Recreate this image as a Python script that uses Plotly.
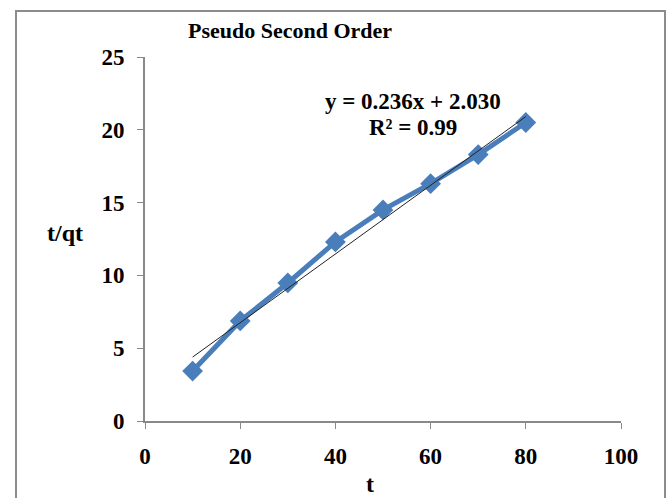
import plotly.graph_objects as go

# Data
t_values = [10, 20, 30, 40, 50, 60, 70, 80]
t_over_qt = [3.43, 6.87, 9.48, 12.3, 14.5, 16.3, 18.3, 20.5]
fit_slope = 0.236
fit_intercept = 2.030
r_squared = 0.99
x_ticks = [0, 20, 40, 60, 80, 100]
y_ticks = [0, 5, 10, 15, 20, 25]

FONT = "Liberation Serif, Times New Roman, serif"

fit_x = [t_values[0], t_values[-1]]
fit_y = [fit_slope * x + fit_intercept for x in fit_x]

fig = go.Figure()
fig.add_trace(go.Scatter(
    x=t_values, y=t_over_qt, mode="lines+markers",
    line=dict(color="#4A7EBB", width=5),
    marker=dict(symbol="diamond", size=16, color="#4A7EBB"),
    showlegend=False, cliponaxis=False,
))
fig.add_trace(go.Scatter(
    x=fit_x, y=fit_y, mode="lines",
    line=dict(color="#222222", width=1),
    showlegend=False,
))

axis_common = dict(
    showgrid=False, zeroline=False, showline=True, linecolor="#898989", linewidth=2,
    ticks="outside", tickcolor="#898989", ticklen=6, tickwidth=1,
    tickfont=dict(family=FONT, size=23, color="black", weight="bold"),
)
fig.update_xaxes(range=[0, 100], tickvals=x_ticks, ticklabelstandoff=7, **axis_common)
fig.update_yaxes(range=[0, 25], tickvals=y_ticks, ticklabelstandoff=8, **axis_common)

fig.update_layout(
    width=668, height=498,
    margin=dict(l=145, r=47, t=57, b=77),
    paper_bgcolor="white", plot_bgcolor="white",
    title=dict(text="Pseudo Second Order", x=290/668, xref="container", xanchor="center",
               y=1-30/498, yref="container", yanchor="middle",
               font=dict(family=FONT, size=22, color="black", weight="bold")),
    annotations=[
        dict(text=f"y = {fit_slope:.3f}x + {fit_intercept:.3f}",
             x=(413-145)/476, y=(421-101)/364, xref="paper", yref="paper",
             showarrow=False, xanchor="center", yanchor="middle",
             font=dict(family=FONT, size=23, color="black", weight="bold")),
        dict(text=f"R² = {r_squared:.2f}",
             x=(413-145)/476, y=(421-127)/364, xref="paper", yref="paper",
             showarrow=False, xanchor="center", yanchor="middle",
             font=dict(family=FONT, size=23, color="black", weight="bold")),
        dict(text="t/qt", x=(65-145)/476, y=(421-233)/364, xref="paper", yref="paper",
             showarrow=False, xanchor="center", yanchor="middle",
             font=dict(family=FONT, size=24, color="black", weight="bold")),
        dict(text="t", x=(370-145)/476, y=(421-484)/364, xref="paper", yref="paper",
             showarrow=False, xanchor="center", yanchor="middle",
             font=dict(family=FONT, size=24, color="black", weight="bold")),
    ],
    shapes=[
        dict(type="rect", xref="paper", yref="paper",
             x0=(16-145)/476, x1=(665-145)/476, y0=(421-505)/364, y1=(421-11)/364,
             line=dict(color="#8C8C8C", width=2), fillcolor="rgba(0,0,0,0)", layer="below"),
    ],
)

fig.write_html("out.html")
